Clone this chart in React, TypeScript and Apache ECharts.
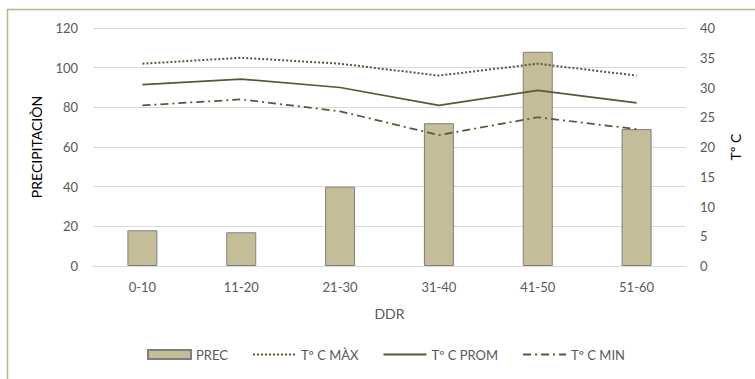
import React, { useEffect, useRef } from "react";
import * as echarts from "echarts";

const categories = ["0-10", "11-20", "21-30", "31-40", "41-50", "51-60"];
const precipitation = [18, 17, 40, 72, 108, 69];
const tempMax = [34, 35, 34, 32, 34, 32];
const tempProm = [30.5, 31.4, 30, 27, 29.5, 27.4];
const tempMin = [27, 28, 26, 22, 25, 23];

const FONT = "Lato, 'Open Sans', sans-serif";
const TEXT = "#595959";
const LINE = "#5b5638";

export default function App() {
  const ref = useRef<HTMLDivElement>(null);

  useEffect(() => {
    if (!ref.current) return;
    const chart = echarts.init(ref.current, undefined, { renderer: "svg" });
    const hideMarker = { opacity: 0 };
    chart.setOption({
      animation: false,
      backgroundColor: "#ffffff",
      textStyle: { fontFamily: FONT, color: TEXT },
      graphic: [
        {
          type: "rect",
          shape: { x: 7.5, y: 9.5, width: 900, height: 500 },
          style: { fill: "none", stroke: "#bdb38b", lineWidth: 1.5 },
          silent: true,
        },
      ],
      grid: { left: 93, right: 69, top: 28, bottom: 113, containLabel: false },
      legend: {
        bottom: 13,
        left: 142,
        itemGap: 24,
        itemWidth: 43,
        itemHeight: 9,
        textStyle: { fontFamily: FONT, color: TEXT, fontSize: 13 },
        data: [
          { name: "PREC", icon: "rect" },
          { name: "Tº C MÀX", itemStyle: hideMarker },
          { name: "Tº C PROM", itemStyle: hideMarker },
          { name: "Tº C MIN", itemStyle: hideMarker },
        ],
      },
      xAxis: {
        type: "category",
        data: categories,
        name: "DDR",
        nameLocation: "middle",
        nameGap: 40,
        nameTextStyle: { fontFamily: FONT, color: TEXT, fontSize: 14 },
        axisTick: { show: false },
        axisLine: { lineStyle: { color: "#d9d9d9" } },
        axisLabel: { color: TEXT, fontSize: 13, margin: 14, fontFamily: FONT },
      },
      yAxis: [
        {
          type: "value",
          min: 0,
          max: 120,
          interval: 20,
          name: "PRECIPITACIÒN",
          nameLocation: "middle",
          nameGap: 50,
          nameRotate: 90,
          nameTextStyle: { fontFamily: FONT, color: "#000000", fontSize: 14 },
          axisLabel: { color: TEXT, fontSize: 13, margin: 15, fontFamily: FONT },
          splitLine: { lineStyle: { color: "#d9d9d9" } },
          axisLine: { show: false },
          axisTick: { show: false },
        },
        {
          type: "value",
          min: 0,
          max: 40,
          interval: 5,
          name: "Tº C",
          nameLocation: "middle",
          nameGap: 42,
          nameRotate: 90,
          nameTextStyle: { fontFamily: FONT, color: "#000000", fontSize: 14 },
          axisLabel: { color: TEXT, fontSize: 13, margin: 14, fontFamily: FONT },
          splitLine: { show: false },
          axisLine: { show: false },
          axisTick: { show: false },
        },
      ],
      series: [
        {
          name: "PREC",
          type: "bar",
          yAxisIndex: 0,
          data: precipitation,
          barWidth: 30,
          itemStyle: { color: "#c4bd97", borderColor: "#7f7f7f", borderWidth: 1 },
        },
        {
          name: "Tº C MÀX",
          type: "line",
          yAxisIndex: 1,
          data: tempMax,
          symbol: "none",
          lineStyle: { color: LINE, width: 2, type: [2, 2] },
          itemStyle: { color: LINE },
        },
        {
          name: "Tº C PROM",
          type: "line",
          yAxisIndex: 1,
          data: tempProm,
          symbol: "none",
          lineStyle: { color: LINE, width: 1.75 },
          itemStyle: { color: LINE },
        },
        {
          name: "Tº C MIN",
          type: "line",
          yAxisIndex: 1,
          data: tempMin,
          symbol: "none",
          lineStyle: { color: LINE, width: 1.75, type: [8, 4, 2, 4] },
          itemStyle: { color: LINE },
        },
      ],
    });
    return () => chart.dispose();
  }, []);

  return (
    <div
      ref={ref}
      style={{ position: "fixed", left: 0, top: 0, width: 755, height: 379 }}
    />
  );
}
